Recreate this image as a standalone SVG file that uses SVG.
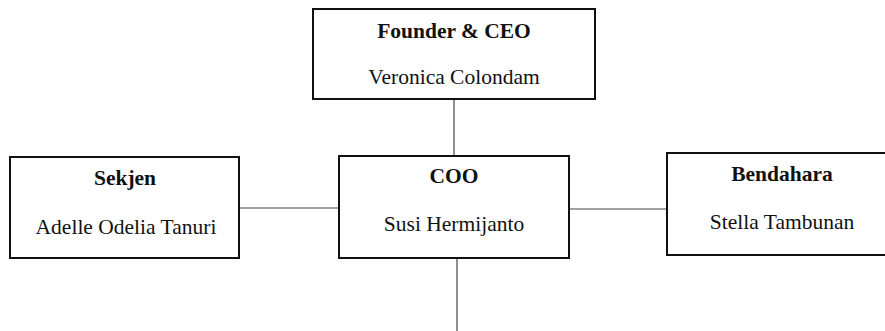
<svg xmlns="http://www.w3.org/2000/svg" width="885" height="331" viewBox="0 0 885 331">
<style>
.box{fill:#fff;stroke:#111;stroke-width:2}
.t{font-family:"Liberation Serif","Times New Roman",serif;font-size:21.5px;fill:#111;text-anchor:middle}
.b{font-weight:bold}
.c{stroke:#444;stroke-width:1.2;fill:none}
</style>
<rect width="885" height="331" fill="#fff"/>
<g id="connectors">
<line class="c" x1="454" y1="100" x2="454" y2="156"/>
<line class="c" x1="240" y1="208" x2="339" y2="208"/>
<line class="c" x1="569" y1="209" x2="667" y2="209"/>
<line class="c" x1="457" y1="258" x2="457" y2="331"/>
</g>
<g id="founder">
<rect class="box" x="313" y="9" width="282" height="90"/>
<text class="t b" x="454" y="38">Founder &amp; CEO</text>
<text class="t" x="454" y="84">Veronica Colondam</text>
</g>
<g id="sekjen">
<rect class="box" x="10" y="157" width="229" height="101"/>
<text class="t b" x="125" y="185">Sekjen</text>
<text class="t" x="126" y="234">Adelle Odelia Tanuri</text>
</g>
<g id="coo">
<rect class="box" x="339" y="156" width="230" height="102"/>
<text class="t b" x="454" y="183">COO</text>
<text class="t" x="454" y="231">Susi Hermijanto</text>
</g>
<g id="bendahara">
<rect class="box" x="667" y="153" width="230" height="102"/>
<text class="t b" x="782" y="181">Bendahara</text>
<text class="t" x="782" y="229">Stella Tambunan</text>
</g>
</svg>
